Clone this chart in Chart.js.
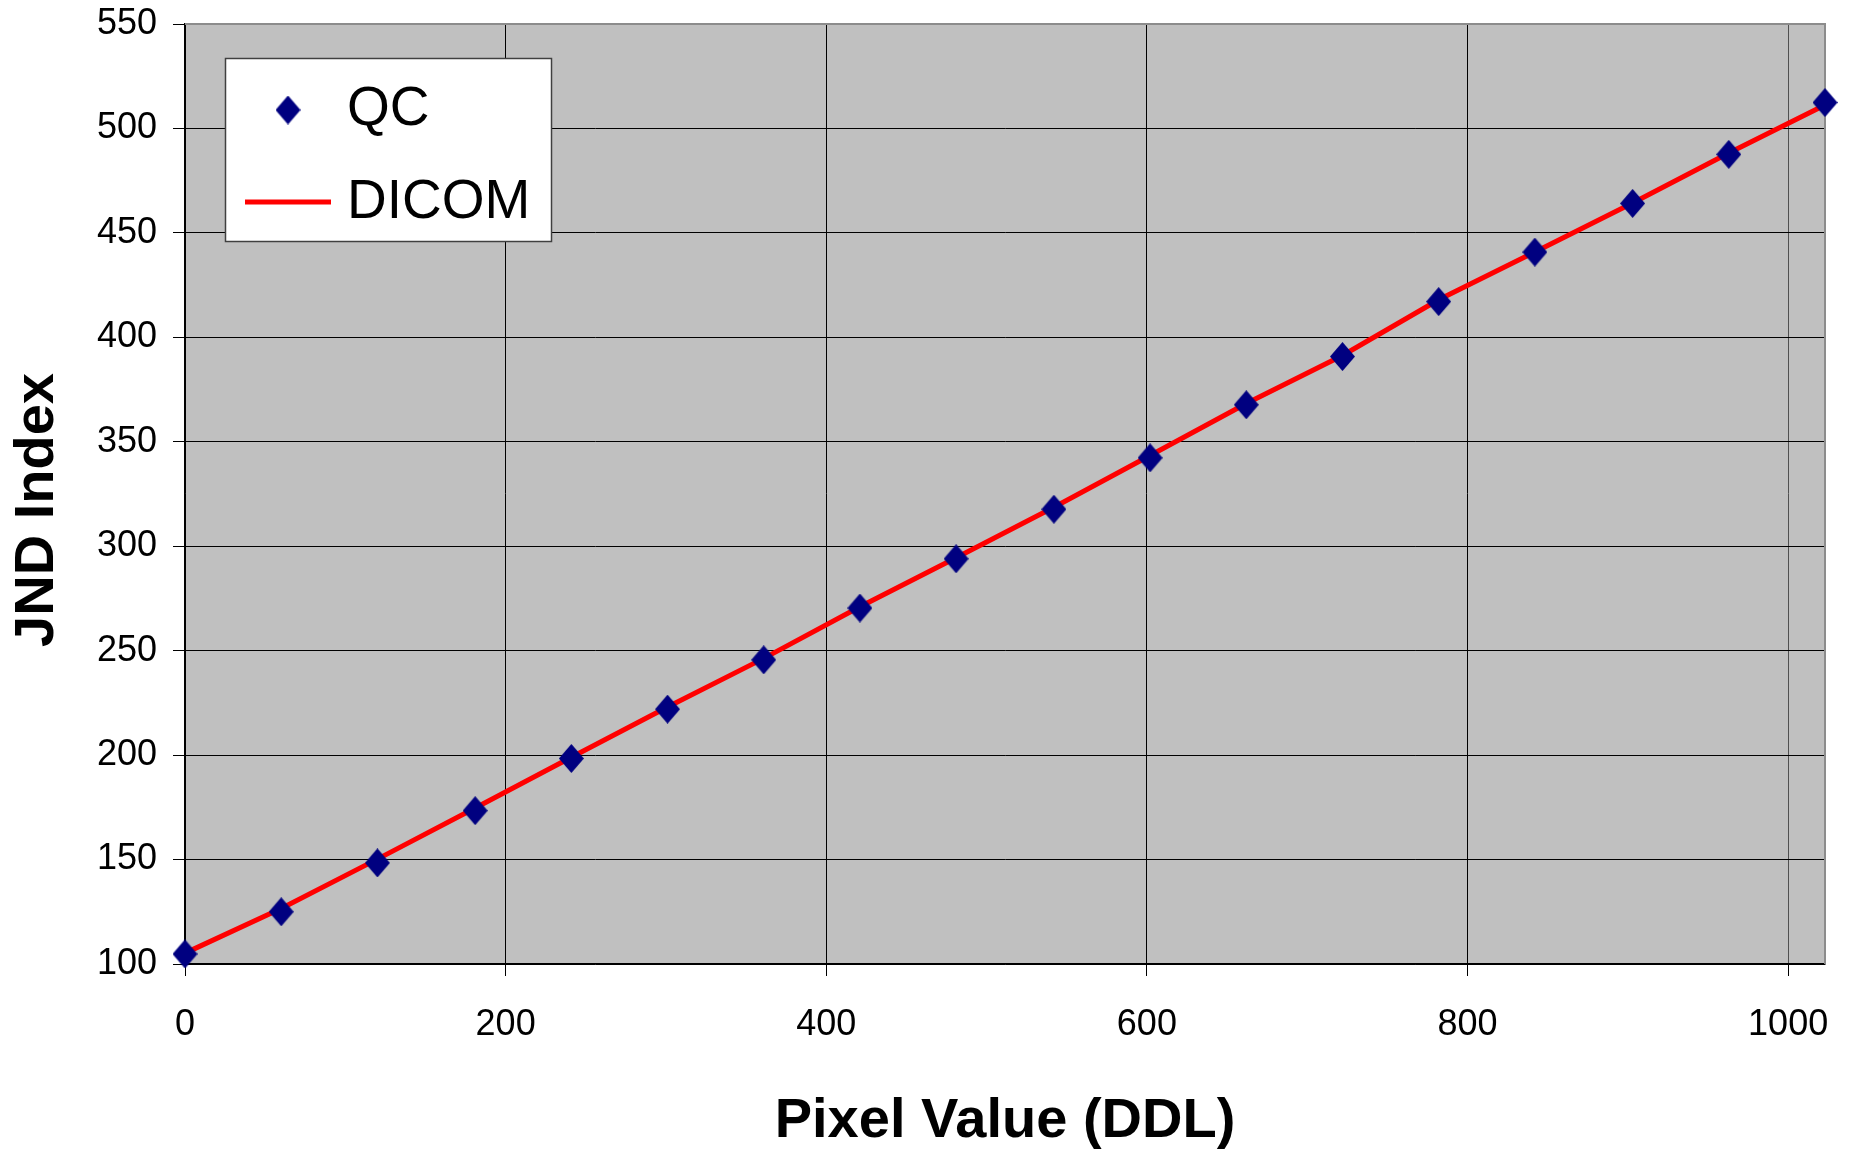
<!DOCTYPE html>
<html>
<head>
<meta charset="utf-8">
<title>JND Index vs Pixel Value</title>
<script src="https://cdn.jsdelivr.net/npm/chart.js@4/dist/chart.umd.min.js"></script>
<style>
  html, body { margin: 0; padding: 0; background: #ffffff; }
  canvas { display: block; }
</style>
</head>
<body>
<canvas id="jnd-chart" width="1849" height="1152"></canvas>
<script>
// pixel values (DDL) where the display was measured
const pixelValues = [0, 60, 120, 181, 241, 301, 361, 421, 481, 542, 602, 662, 722, 782, 842, 903, 963, 1023];
// measured JND index
const qcValues = [104.8, 125.0, 148.4, 173.4, 198.4, 222.0, 245.6, 270.4, 294.0, 317.7, 342.3, 367.7, 390.8, 417.1, 440.8, 464.1, 487.6, 512.4];
// DICOM GSDF target
const dicomValues = [105.2, 126.6, 150.2, 174.7, 199.0, 223.0, 246.3, 271.0, 294.5, 318.7, 343.4, 368.3, 391.3, 418.0, 440.8, 464.3, 488.2, 511.2];

const xTicks = [0, 200, 400, 600, 800, 1000];
const yTicks = [100, 150, 200, 250, 300, 350, 400, 450, 500, 550];
const seriesNames = ['QC', 'DICOM'];
const xTitle = 'Pixel Value (DDL)';
const yTitle = 'JND Index';

const FONT = "'Liberation Sans', Arial, Helvetica, sans-serif";
const NAVY = '#000080';
const RED = '#ff0000';

// navy diamond, a bit taller than wide
function makeDiamond(w, h) {
    const c = document.createElement('canvas');
    c.width = w;
    c.height = h;
    const g = c.getContext('2d');
    g.fillStyle = NAVY;
    g.beginPath();
    g.moveTo(w / 2, 0);
    g.lineTo(w, h / 2);
    g.lineTo(w / 2, h);
    g.lineTo(0, h / 2);
    g.closePath();
    g.fill();
    return c;
}
const diamond = makeDiamond(25, 29);

const toPoints = (ys) => pixelValues.map((x, i) => ({ x: x, y: ys[i] }));

// grey plot area, drawn before the grid
const plotBackground = {
    id: 'plotBackground',
    beforeDraw(chart) {
        const { ctx, chartArea: a } = chart;
        ctx.save();
        ctx.fillStyle = '#c0c0c0';
        ctx.fillRect(a.left, a.top, a.right - a.left, a.bottom - a.top);
        ctx.restore();
    },
    beforeDatasetsDraw(chart) {
        const { ctx, chartArea: a } = chart;
        ctx.save();
        ctx.strokeStyle = '#8c8c8c';
        ctx.lineWidth = 2;
        ctx.beginPath();
        ctx.moveTo(a.left, a.top);
        ctx.lineTo(a.right, a.top);
        ctx.lineTo(a.right, a.bottom);
        ctx.stroke();
        ctx.restore();
    }
};

// vertical axis title, sitting a little below the plot's middle
const yAxisTitle = {
    id: 'yAxisTitle',
    afterDraw(chart) {
        const ctx = chart.ctx;
        ctx.save();
        ctx.translate(38, 510);
        ctx.rotate(-Math.PI / 2);
        ctx.fillStyle = '#000000';
        ctx.font = 'bold 56px ' + FONT;
        ctx.textAlign = 'center';
        ctx.textBaseline = 'middle';
        ctx.fillText(yTitle, 0, 0);
        ctx.restore();
    }
};

// boxed legend in the upper left of the plot
const boxLegend = {
    id: 'boxLegend',
    afterDatasetsDraw(chart) {
        const ctx = chart.ctx;
        const ds = chart.data.datasets;
        ctx.save();
        ctx.fillStyle = '#ffffff';
        ctx.fillRect(225, 58, 326, 183);
        ctx.strokeStyle = '#404040';
        ctx.lineWidth = 1.5;
        ctx.strokeRect(225.5, 58.5, 326, 183);

        ctx.drawImage(ds[0].pointStyle, 288 - diamond.width / 2, 110 - diamond.height / 2);

        ctx.strokeStyle = ds[1].borderColor;
        ctx.lineWidth = ds[1].borderWidth;
        ctx.beginPath();
        ctx.moveTo(245, 202);
        ctx.lineTo(331, 202);
        ctx.stroke();

        ctx.fillStyle = '#000000';
        ctx.font = '55px ' + FONT;
        ctx.textBaseline = 'alphabetic';
        ctx.fillText(ds[0].label, 347, 125);
        ctx.fillText(ds[1].label, 347, 218);
        ctx.restore();
    }
};

new Chart(document.getElementById('jnd-chart'), {
    type: 'scatter',
    data: {
        datasets: [
            {
                label: seriesNames[0],
                data: toPoints(qcValues),
                pointStyle: diamond,
                pointRadius: 13,
                showLine: false,
                clip: false
            },
            {
                label: seriesNames[1],
                data: toPoints(dicomValues),
                showLine: true,
                borderColor: RED,
                borderWidth: 5,
                pointRadius: 0,
                tension: 0,
                clip: false
            }
        ]
    },
    options: {
        responsive: false,
        animation: false,
        layout: {
            autoPadding: false,
            padding: { top: 24, right: 24, left: 0, bottom: 0 }
        },
        plugins: {
            legend: { display: false },
            tooltip: { enabled: false }
        },
        scales: {
            x: {
                type: 'linear',
                min: 0,
                max: 1023,
                afterBuildTicks: (s) => { s.ticks = xTicks.map(v => ({ value: v })); },
                afterFit: (s) => { s.height = 188; s.paddingLeft = 0; s.paddingRight = 0; },
                border: { color: '#000000', width: 1.5 },
                grid: {
                    color: (c) => c.tick && c.tick.value === 1000 ? '#505050' : '#000000',
                    tickColor: '#000000',
                    lineWidth: 1,
                    tickLength: 12
                },
                ticks: {
                    color: '#000000',
                    padding: 27,
                    font: { family: FONT, size: 36 },
                    callback: (v) => String(v)
                },
                title: {
                    display: true,
                    text: xTitle,
                    color: '#000000',
                    font: { family: FONT, size: 56, weight: 'bold', lineHeight: 1 },
                    padding: { top: 0, bottom: 2 }
                }
            },
            y: {
                type: 'linear',
                min: 100,
                max: 550,
                afterBuildTicks: (s) => { s.ticks = yTicks.map(v => ({ value: v })); },
                afterFit: (s) => { s.width = 185; s.paddingTop = 0; s.paddingBottom = 0; },
                border: { color: '#000000', width: 1.5 },
                grid: {
                    color: (c) => c.tick && c.tick.value === 550 ? 'rgba(0,0,0,0)' : '#000000',
                    tickColor: '#000000',
                    lineWidth: 1,
                    tickLength: 12
                },
                ticks: {
                    color: '#000000',
                    padding: 16,
                    font: { family: FONT, size: 36 },
                    callback: (v) => String(v)
                }
            }
        }
    },
    plugins: [plotBackground, yAxisTitle, boxLegend]
});
</script>
</body>
</html>
